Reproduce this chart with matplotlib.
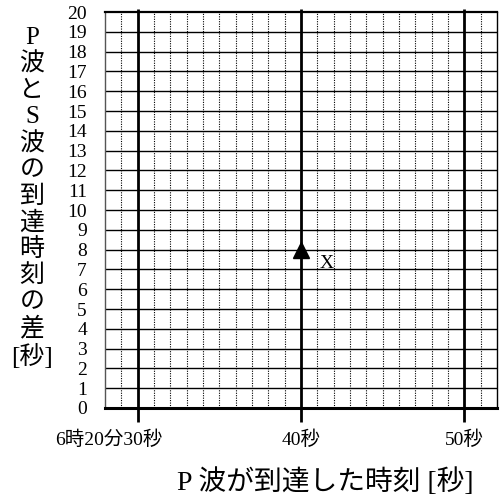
import matplotlib
matplotlib.use("Agg")
import matplotlib.pyplot as plt
import matplotlib.transforms as mtransforms

plt.rcParams['font.family'] = ['Liberation Serif', 'Noto Sans CJK JP']

# data
x_min, x_max = 28, 52
y_min, y_max = 0, 20
major_x = [30, 40, 50]
major_x_labels = ['6時20分30秒', '40秒', '50秒']
minor_x = [v for v in range(29, 52) if v not in major_x]
y_ticks = list(range(0, 21))
point_x = [40]
point_y = [8]
point_label = 'X'
ylabel_chars = ['P', '波', 'と', 'S', '波', 'の', '到', '達', '時', '刻', 'の', '差']
ylabel_unit = '[秒]'
xlabel = 'P 波が到達した時刻 [秒]'

fig = plt.figure(figsize=(5.04, 4.98), dpi=100)
W, H = 504, 498
ax = fig.add_axes([105 / W, 1 - 408 / H, (497 - 105) / W, (408 - 12) / H])
ax.set_xlim(x_min, x_max)
ax.set_ylim(y_min, y_max)

# horizontal grid lines
for yv in y_ticks[1:-1]:
    ax.axhline(yv, color='black', lw=1.0, zorder=1)
# vertical dotted minor lines
for xv in minor_x:
    ax.axvline(xv, color='black', lw=0.8, ls=(0, (1, 1.2)), zorder=1)
# thick major vertical lines
for xv in major_x:
    ax.axvline(xv, color='black', lw=2.0, zorder=2)

# spines
ax.spines['left'].set_color('#555555')
ax.spines['left'].set_linewidth(1.0)
ax.spines['bottom'].set_linewidth(2.2)
ax.spines['top'].set_linewidth(1.6)
ax.spines['right'].set_linewidth(1.0)

# ticks
ax.set_xticks(major_x)
ax.set_xticklabels(major_x_labels, fontsize=14)
ax.tick_params(axis='x', direction='out', length=10, width=2.0, pad=6, top=True)
for t in ax.xaxis.get_major_ticks():
    t.tick2line.set_markersize(2.5)
# first label sits left of its tick in the reference
lbl0 = ax.get_xticklabels()[0]
lbl0.set_transform(lbl0.get_transform() + mtransforms.ScaledTranslation(-29 / 100, 0, fig.dpi_scale_trans))
ax.set_yticks(y_ticks)
ax.set_yticklabels([str(v) for v in y_ticks], fontsize=14)
ax.tick_params(axis='y', length=0, pad=13)

# point
ax.plot(point_x, point_y, marker='^', color='black', markersize=11, ls='none', zorder=5, clip_on=False)
ax.text(point_x[0] + 1.6, point_y[0] - 0.7, point_label, fontsize=14, ha='center', va='center', zorder=5)

# vertical y-label
for i, ch in enumerate(ylabel_chars):
    fig.text(32 / W, 1 - (38 + i * 26.4) / H, ch, fontsize=18, ha='center', va='center')
fig.text(32 / W, 1 - 356 / H, ylabel_unit, fontsize=18, ha='center', va='center')

# x label
fig.text(325 / W, 1 - 482 / H, xlabel, fontsize=20, ha='center', va='center')

fig.savefig('out.png', dpi=100)
